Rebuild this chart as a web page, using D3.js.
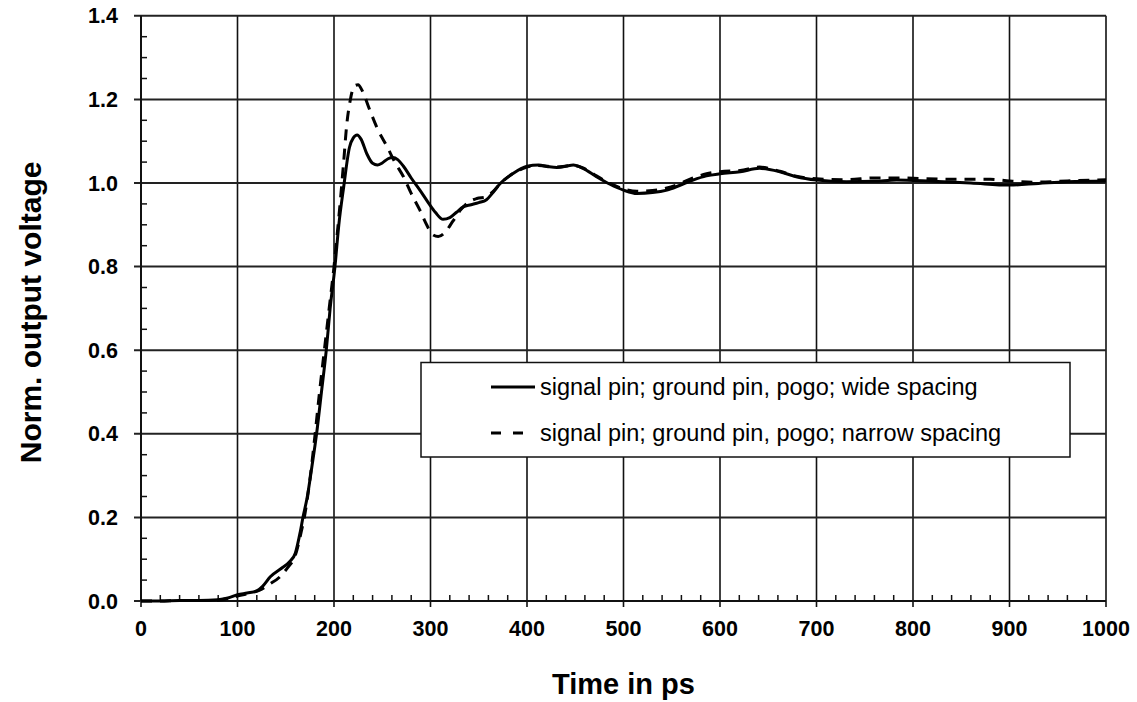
<!DOCTYPE html>
<html>
<head>
<meta charset="utf-8">
<script src="https://cdn.jsdelivr.net/npm/d3@7"></script>
<style>
  body { margin: 0; background: #fff; }
  text { font-family: "Liberation Sans", Arial, sans-serif; }
</style>
</head>
<body>
<div id="chart"></div>
<script>
// Data (time in ps, normalised voltage)
const wideTime = [0, 20, 40, 60, 80, 90, 100, 110, 120, 126, 134, 146, 154, 160, 165, 168, 172, 177, 182, 187,
  192, 196, 201, 205, 210, 216, 220, 224, 228, 234, 240, 245, 250, 256, 261, 266, 272, 280, 289, 298,
  305, 313, 320, 327, 334, 342, 350, 358, 365, 372, 385, 400, 412, 422, 431, 440, 448, 458, 472, 486,
  500, 514, 530, 545, 558, 572, 586, 600, 621, 641, 662, 679, 700, 731, 760, 783, 820, 860, 900, 930,
  960, 1000];
const wideVolt = [0, 0, 0.001, 0.001, 0.003, 0.007, 0.015, 0.019, 0.024, 0.035, 0.058, 0.079, 0.094, 0.115, 0.165, 0.202, 0.245, 0.32, 0.401, 0.5,
  0.6, 0.7, 0.8, 0.9, 0.99, 1.085, 1.108, 1.115, 1.105, 1.07, 1.047, 1.043, 1.048, 1.058, 1.061, 1.056, 1.04, 1.012, 0.983, 0.952,
  0.93, 0.913, 0.917, 0.93, 0.943, 0.948, 0.953, 0.96, 0.978, 0.998, 1.022, 1.04, 1.043, 1.039, 1.037, 1.04, 1.043, 1.035, 1.015, 0.997,
  0.983, 0.975, 0.977, 0.983, 0.994, 1.007, 1.017, 1.022, 1.027, 1.035, 1.027, 1.015, 1.007, 1.003, 1.004, 1.007, 1.004, 1.0, 0.995, 0.999,
  1.003, 1.005];

const narrowTime = [0, 20, 40, 60, 80, 100, 115, 123, 133, 144, 152, 160, 166, 170, 175, 180, 185, 190, 195, 200,
  203, 206, 210, 213, 217, 221, 225, 229, 237, 245, 255, 263, 272, 280, 289, 296, 302, 308, 315, 323,
  331, 340, 348, 358, 365, 372, 385, 400, 412, 431, 448, 458, 472, 486, 500, 514, 530, 545, 558, 572,
  586, 600, 621, 641, 662, 679, 700, 731, 760, 783, 838, 880, 900, 925, 960, 1000];
const narrowVolt = [0, 0, 0.001, 0.001, 0.002, 0.012, 0.02, 0.026, 0.04, 0.058, 0.08, 0.11, 0.165, 0.21, 0.29, 0.39, 0.5, 0.6, 0.7, 0.8,
  0.87, 0.943, 1.05, 1.135, 1.2, 1.232, 1.235, 1.222, 1.175, 1.13, 1.087, 1.05, 1.015, 0.975, 0.935, 0.9, 0.877, 0.872, 0.882, 0.908,
  0.935, 0.955, 0.963, 0.967, 0.98, 0.998, 1.022, 1.038, 1.042, 1.038, 1.042, 1.036, 1.017, 0.999, 0.986, 0.98, 0.982, 0.988, 0.998, 1.012,
  1.022, 1.027, 1.03, 1.038, 1.028, 1.016, 1.01, 1.008, 1.012, 1.012, 1.009, 1.009, 1.005, 1.002, 1.005, 1.008];

const seriesNames = ['signal pin; ground pin, pogo; wide spacing', 'signal pin; ground pin, pogo; narrow spacing'];
const xTicks = [0, 100, 200, 300, 400, 500, 600, 700, 800, 900, 1000];
const yTicks = [0, 0.2, 0.4, 0.6, 0.8, 1.0, 1.2, 1.4];
const xTitle = 'Time in ps';
const yTitle = 'Norm. output voltage';

// Dimensions
const width = 1137;
const height = 702;
const plot = {left: 141, right: 1106, top: 15.8, bottom: 601};

// Scales
const scaleX = d3.scaleLinear().domain([0, 1000]).range([plot.left, plot.right]);
const scaleY = d3.scaleLinear().domain([0, 1.4]).range([plot.bottom, plot.top]);

const svg = d3.select('#chart')
  .append('svg')
    .attr('width', width)
    .attr('height', height)

// Grid
const grid = svg.append('g');
grid.selectAll('line.v')
  .data(xTicks)
  .join('line')
    .attr('class', 'v')
    .attr('x1', (d) => scaleX(d))
    .attr('x2', (d) => scaleX(d))
    .attr('y1', plot.top)
    .attr('y2', plot.bottom + 6)
    .attr('stroke', '#111')
    .attr('stroke-width', 1.6)
grid.selectAll('line.h')
  .data(yTicks)
  .join('line')
    .attr('class', 'h')
    .attr('x1', plot.left - 7)
    .attr('x2', plot.right)
    .attr('y1', (d) => scaleY(d))
    .attr('y2', (d) => scaleY(d))
    .attr('stroke', '#222')
    .attr('stroke-width', 2)

// Minor ticks
const minorX = d3.range(0, 1001, 20).filter((d) => d % 100 !== 0);
const minorY = d3.range(0.05, 1.4, 0.05).filter((d) => Math.abs(d * 5 - Math.round(d * 5)) > 1e-6);
grid.selectAll('line.mx')
  .data(minorX)
  .join('line')
    .attr('class', 'mx')
    .attr('x1', (d) => scaleX(d))
    .attr('x2', (d) => scaleX(d))
    .attr('y1', plot.bottom)
    .attr('y2', plot.bottom - 6)
    .attr('stroke', '#111')
    .attr('stroke-width', 1.5)
grid.selectAll('line.my')
  .data(minorY)
  .join('line')
    .attr('class', 'my')
    .attr('x1', plot.left)
    .attr('x2', plot.left + 6)
    .attr('y1', (d) => scaleY(d))
    .attr('y2', (d) => scaleY(d))
    .attr('stroke', '#111')
    .attr('stroke-width', 1.5)

// Axis lines
svg.append('line')
  .attr('x1', plot.left).attr('x2', plot.left)
  .attr('y1', plot.top).attr('y2', plot.bottom)
  .attr('stroke', '#111').attr('stroke-width', 2)
svg.append('line')
  .attr('x1', plot.left).attr('x2', plot.right)
  .attr('y1', plot.bottom).attr('y2', plot.bottom)
  .attr('stroke', '#111').attr('stroke-width', 2.2)

// Tick labels
svg.append('g').selectAll('text')
  .data(xTicks)
  .join('text')
    .attr('x', (d) => scaleX(d))
    .attr('y', 636)
    .attr('text-anchor', 'middle')
    .attr('font-size', 21.5)
    .attr('font-weight', 'bold')
    .text((d) => d)
svg.append('g').selectAll('text')
  .data(yTicks)
  .join('text')
    .attr('x', 118)
    .attr('y', (d) => scaleY(d) + 7.5)
    .attr('text-anchor', 'end')
    .attr('font-size', 21.5)
    .attr('font-weight', 'bold')
    .text((d) => d.toFixed(1))

// Axis titles
svg.append('text')
  .attr('x', (plot.left + plot.right) / 2)
  .attr('y', 694)
  .attr('text-anchor', 'middle')
  .attr('font-size', 29)
  .attr('font-weight', 'bold')
  .text(xTitle)
svg.append('text')
  .attr('transform', `translate(41, ${(plot.top + plot.bottom) / 2 + 4}) rotate(-90)`)
  .attr('text-anchor', 'middle')
  .attr('font-size', 30)
  .attr('font-weight', 'bold')
  .text(yTitle)

// Curves
const line = d3.line()
  .x((d) => scaleX(d[0]))
  .y((d) => scaleY(d[1]))
  .curve(d3.curveMonotoneX)
const wide = wideTime.map((t, i) => [t, wideVolt[i]]);
const narrow = narrowTime.map((t, i) => [t, narrowVolt[i]]);
svg.append('path')
  .attr('d', line(narrow))
  .attr('fill', 'none')
  .attr('stroke', '#000')
  .attr('stroke-width', 3)
  .attr('stroke-dasharray', '11,8')
svg.append('path')
  .attr('d', line(wide))
  .attr('fill', 'none')
  .attr('stroke', '#000')
  .attr('stroke-width', 3)

// Legend
const legend = svg.append('g');
legend.append('rect')
  .attr('x', 421)
  .attr('y', 362.5)
  .attr('width', 649)
  .attr('height', 94.5)
  .attr('fill', '#fff')
  .attr('stroke', '#111')
  .attr('stroke-width', 1.5)
const entries = [
  {name: seriesNames[0], y: 387, dash: null, x2: 535},
  {name: seriesNames[1], y: 433, dash: '10,12', x2: 526}
];
entries.forEach((e) => {
  legend.append('line')
    .attr('x1', 491)
    .attr('x2', e.x2)
    .attr('y1', e.y)
    .attr('y2', e.y)
    .attr('stroke', '#000')
    .attr('stroke-width', 3)
    .attr('stroke-dasharray', e.dash)
  legend.append('text')
    .attr('x', 540)
    .attr('y', e.y + 7.5)
    .attr('font-size', 23.5)
    .text(e.name)
})
</script>
</body>
</html>
